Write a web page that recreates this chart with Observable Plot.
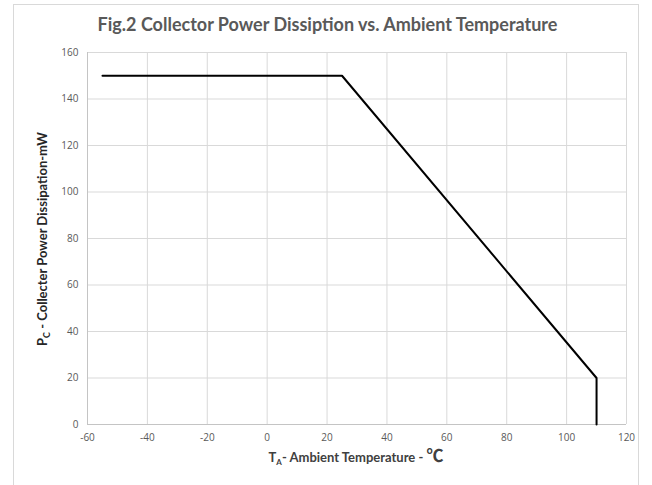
<!DOCTYPE html>
<html><head><meta charset="utf-8">
<script src="https://cdn.jsdelivr.net/npm/d3@7"></script>
<script src="https://cdn.jsdelivr.net/npm/@observablehq/plot@0.6"></script>
<style>
body{margin:0;background:#fff;}
#wrap{position:relative;width:652px;height:485px;overflow:hidden;font-family:Lato,"Open Sans",sans-serif;}
#border{position:absolute;left:13px;top:4px;width:626px;height:500px;border:1px solid #d9d9d9;box-sizing:border-box;}
#title{position:absolute;left:0;top:13px;width:655px;text-align:center;font-size:18px;font-weight:bold;color:#595959;}
#plot{position:absolute;left:0;top:0;}
</style></head>
<body>
<div id="wrap"><div id="border"></div><div id="title">Fig.2 Collector Power Dissiption vs. Ambient Temperature</div><div id="plot"></div></div>
<script>
const temperature = [-55, 25, 110, 110];
const power = [150, 150, 20, 0];
const xTicks = [-60, -40, -20, 0, 20, 40, 60, 80, 100, 120];
const yTicks = [0, 20, 40, 60, 80, 100, 120, 140, 160];

const data = temperature.map((t, i) => ({t, p: power[i]}));
const fmt = d => String(d);
const chart = Plot.plot({
  width: 652, height: 485,
  marginLeft: 87, marginRight: 26, marginTop: 52, marginBottom: 61,
  style: {fontFamily: "'Open Sans', sans-serif", fontSize: "10px", background: "transparent"},
  x: {domain: [-60, 120], ticks: xTicks, label: null},
  y: {domain: [0, 160], ticks: yTicks, label: null},
  marks: [
    Plot.gridX(xTicks, {stroke: "#d9d9d9", strokeOpacity: 1}),
    Plot.gridY(yTicks, {stroke: "#d9d9d9", strokeOpacity: 1}),
    Plot.ruleX([-60], {stroke: "#c4c4c4"}),
    Plot.ruleY([0], {stroke: "#c4c4c4"}),
    Plot.axisX(xTicks, {tickSize: 0, tickPadding: 9, fill: "#595959", fontSize: 10, tickFormat: fmt}),
    Plot.axisY(yTicks, {tickSize: 0, tickPadding: 9, fill: "#595959", fontSize: 10, tickFormat: fmt}),
    Plot.line(data, {x: "t", y: "p", stroke: "#000", strokeWidth: 2})
  ]
});
document.getElementById("plot").appendChild(chart);
const svg = d3.select(chart);
const yl = svg.append("text")
  .attr("transform", "translate(47,239) rotate(-90)")
  .attr("text-anchor", "middle")
  .attr("font-family", "Lato, sans-serif")
  .attr("font-size", 13).attr("font-weight", "bold").attr("fill", "#262626");
yl.append("tspan").text("P");
yl.append("tspan").attr("font-size", 9).attr("dy", 3).text("C");
yl.append("tspan").attr("dy", -3).text(" - Collecter Power Dissipation-mW");
const xl = svg.append("text")
  .attr("x", 356).attr("y", 462)
  .attr("text-anchor", "middle")
  .attr("font-family", "Lato, sans-serif")
  .attr("font-size", 13).attr("font-weight", "bold").attr("fill", "#404040");
xl.append("tspan").text("T");
xl.append("tspan").attr("font-size", 8).attr("dy", 3).text("A");
xl.append("tspan").attr("dy", -3).text("- Ambient Temperature - ");
xl.append("tspan").attr("font-size", 17).attr("font-family", "'Noto Sans CJK SC', sans-serif").text("℃");
</script>
</body></html>
